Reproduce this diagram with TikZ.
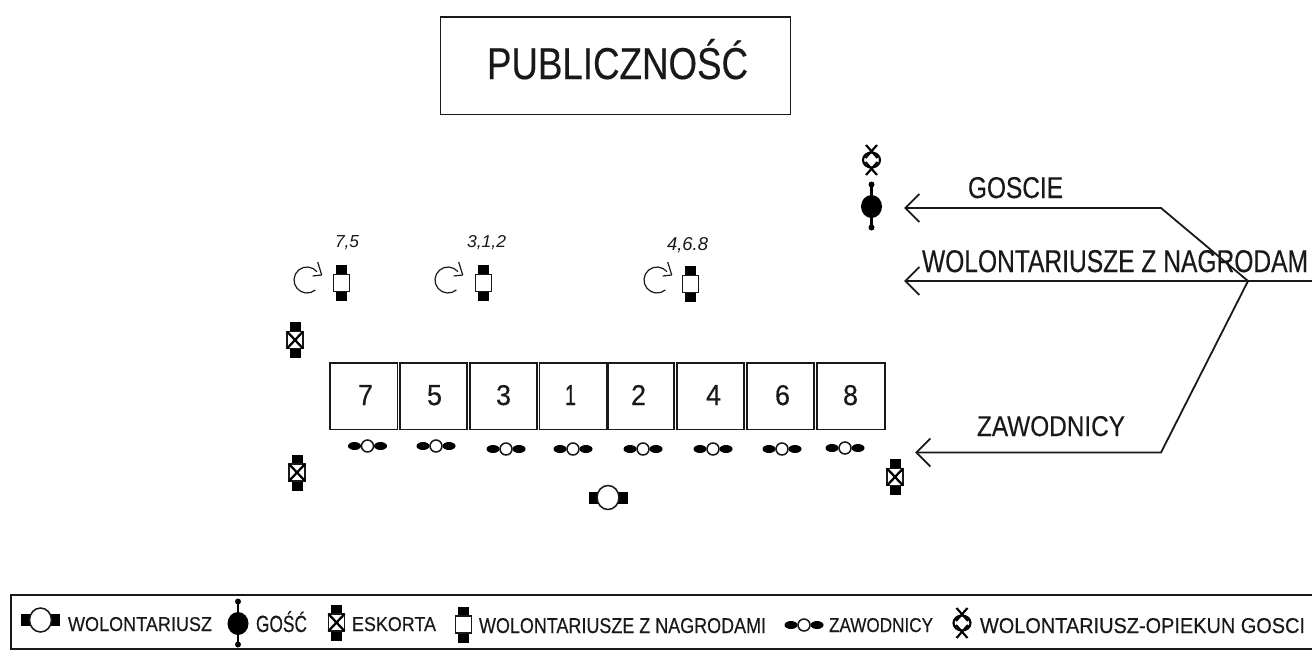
\documentclass[tikz,border=0pt]{standalone}
\usepackage{fontspec}
\usepackage{graphicx}
\setmainfont{Liberation Sans}
\newfontfamily\hvy{Liberation Sans}[FakeBold=0.35]
\usetikzlibrary{arrows.meta}
\newdimen\pxu \pxu=0.75pt
\newcommand{\fitt}[3]{\resizebox{#1\pxu}{#2\pxu}{\hvy #3}}
\newcommand{\fiti}[3]{\resizebox{#1\pxu}{#2\pxu}{\itshape #3}}
\tikzset{
  x=0.75pt,y=-0.75pt,
  lin/.style={line width=1.35pt,draw=black!90},
  thin lin/.style={line width=1.15pt,draw=black!90},
  txt/.style={inner sep=0pt,outer sep=0pt,anchor=base west,text=black!90},
  flow/.style={lin,-{Straight Barb[length=10.5pt,width=21pt]}},
  pics/wolsym/.style={code={
    \fill[black] (-19.5,-6) rectangle (19.5,6);
    \draw[thin lin,fill=white] (0,0) ellipse [x radius=11,y radius=12];
  }},
  pics/gossym/.style={code={
    \draw[line width=1.9pt,black] (0,-21) -- (0,22);
    \fill[black] (0,-21) circle (3) (0,22) circle (3);
    \fill[black] (0,1) ellipse [x radius=10.5,y radius=11.5];
  }},
  pics/eskorta/.style={code={
    \fill[black] (-5.5,-18) rectangle (5.5,18);
    \draw[lin,fill=white] (-8,-8.5) rectangle (8,8.5);
    \draw[line width=1.7pt,black] (-8,-8.5) -- (8,8.5) (8,-8.5) -- (-8,8.5);
  }},
  pics/nagroda/.style={code={
    \fill[black] (-5.5,-18) rectangle (5.5,18);
    \draw[lin,fill=white] (-8,-8.5) rectangle (8,8.5);
  }},
  pics/zawsym/.style={code={
    \fill[black] (-13,0) ellipse [x radius=6.5,y radius=4];
    \fill[black] (13,0) ellipse [x radius=6.5,y radius=4];
    \draw[thin lin,fill=white] (0,0) circle (6);
  }},
  pics/opiekun/.style={code={
    \draw[line width=1.6pt,black] (-5.5,-15) -- (6,-2) (5.5,-15) -- (-6,-2);
    \draw[line width=1.6pt,black] (-6,2) -- (5.5,15) (6,2) -- (-5.5,15);
    \draw[line width=1.6pt,black] (0,0) ellipse [x radius=8.5,y radius=7.5];
  }},
  pics/obrot/.style={code={
    \draw[line width=0.9pt,black!90] (50:13) arc [start angle=50,end angle=320,radius=13];
    \draw[line width=0.9pt,black!90] (5.7,-4) -- (14.7,-5);
    \draw[line width=0.9pt,black!90] (10.7,-18) -- (14.7,-5);
  }},
}
\begin{document}
\begin{tikzpicture}
\useasboundingbox (0,0) rectangle (1312,668);
\fill[white] (0,0) rectangle (1312,668);

% audience
\draw[lin] (440.5,17) rectangle (790.5,114.5);
\node[txt] (pub) at (487,79) {\fitt{261}{40}{PUBLICZNOŚĆ}};

% numbered seats
\foreach \nm/\xa/\xb/\xt/\dw in {7/330/397.5/358/15, 5/400/467/427/15, 3/470/537/496/15, 1/539.5/607/565/11, 2/608/674/631/15, 4/677/744/706/15, 6/747/814/775/15, 8/817/885/843/15}{
  \draw[lin] (\xa,363) rectangle (\xb,429.5);
  \node[txt] (seat\nm) at (\xt,405) {\fitt{\dw}{20}{\nm}};
}

% competitors
\foreach \cx/\cy in {367.5/446, 436/446, 506/449, 573/449, 643/449, 713/449, 782/449, 845/448}{
  \pic at (\cx,\cy) {zawsym};
}
\pic at (608,497.5) {wolsym};

% escorts
\pic at (295,340) {eskorta};
\pic at (297,472.5) {eskorta};
\pic at (895,477) {eskorta};

% prize volunteers
\pic at (341.5,283) {nagroda};
\pic at (483.5,283) {nagroda};
\pic at (690.5,284) {nagroda};
\pic at (307,280) {obrot};
\pic at (448,280) {obrot};
\pic at (657,280) {obrot};
\node[txt] (l75) at (335,247) {\fiti{24}{12}{7,5}};
\node[txt] (l312) at (467,247) {\fiti{39}{12}{3,1,2}};
\node[txt] (l468) at (667,250) {\fiti{41}{13}{4,6.8}};

% guest and carer
\pic at (871.5,160) {opiekun};
\pic at (871.5,205.5) {gossym};

% flows
\coordinate (gtip) at (904,208);
\coordinate (wtip) at (904,281);
\coordinate (ztip) at (915,452.5);
\coordinate (gknee) at (1161,208);
\coordinate (zknee) at (1161,452.5);
\coordinate (jun) at (1248,281);
\coordinate (wend) at (1312,281);
\draw[flow] (jun) -- (gknee) -- (gtip);
\draw[flow] (wend) -- (wtip);
\draw[flow] (jun) -- (zknee) -- (ztip);
\node[txt] (tg) at (968,198) {\fitt{95}{21}{GOSCIE}};
\node[txt] (tw) at (922,272) {\fitt{386}{22}{WOLONTARIUSZE Z NAGRODAM}};
\node[txt] (tz) at (977,436) {\fitt{148}{20}{ZAWODNICY}};

% legend
\draw[lin] (1312,595) -- (11,595) -- (11,649) -- (1312,649);
\pic at (40.5,620) {wolsym};
\node[txt] (a1) at (68,631) {\fitt{144}{14}{WOLONTARIUSZ}};
\pic at (238,622.5) {gossym};
\node[txt] (a2) at (256,632) {\fitt{51}{21}{GOŚĆ}};
\pic at (336.5,622.5) {eskorta};
\node[txt] (a3) at (352,631) {\fitt{84}{14}{ESKORTA}};
\pic at (463.5,624.5) {nagroda};
\node[txt] (a4) at (479,633) {\fitt{287}{15}{WOLONTARIUSZE Z NAGRODAMI}};
\pic at (804,625) {zawsym};
\node[txt] (a5) at (829,632) {\fitt{104}{14}{ZAWODNICY}};
\pic at (962,623) {opiekun};
\node[txt] (a6) at (980,633) {\fitt{325}{15}{WOLONTARIUSZ-OPIEKUN GOSCI}};
\end{tikzpicture}
\end{document}
